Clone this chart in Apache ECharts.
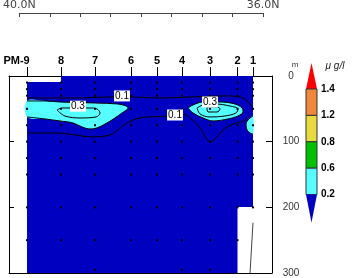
<!DOCTYPE html>
<html><head><meta charset="utf-8">
<script src="https://cdn.jsdelivr.net/npm/echarts@6/dist/echarts.min.js"></script>
<style>html,body{margin:0;padding:0;background:#fff}#c{width:361px;height:278px}</style>
</head><body><div id="c"></div>
<script>
// ---- data ----
const stationNames = ['PM-9','8','7','6','5','4','3','2','1'];
const stationLat   = [39.837, 39.285, 38.732, 38.146, 37.724, 37.317, 36.862, 36.415, 36.163];
const stationDepths = [
  [10,20,30,50,75,100,125,150,200,250],
  [10,20,30,50,75,100,125,150,200,250],
  [10,20,30,50,75,100,125,150,200,250,295],
  [10,20,30,50,75,100,125,150,200,250],
  [10,20,30,50,75,100,125,150,200,250],
  [10,20,30,50,75,100,125,150,200,250,295],
  [10,20,30,50,75,100,125,150,200,250,295],
  [10,20,30,50,75,100,125,150,200,250],
  [10,20,30,50,75,100,125,150,200]
];
const latTicks = [36.0, 40.0];
const depthTicks = [0, 100, 200, 300];
const colorLevels = ['1.4','1.2','0.8','0.6','0.2'];
const colorBins = ['#FF0000','#F0873A','#E6DA3E','#00C000','#55FFFF','#0000C0'];

// section area with data (lat, depth)
const sectionArea = [[39.837,9.1],[39.285,9.1],[39.285,0],[36.163,0],[36.163,199.4],[36.415,199.4],[36.415,300],[39.837,300]];
// > 0.2 patches
const patchWest = [[39.837,38.0],[39.545,38.0],[39.301,39.6],[38.732,41.1],[38.358,42.6],[38.228,45.7],[38.195,48.7],[38.293,56.3],[38.407,63.9],[38.537,71.5],[38.699,79.1],[38.813,80.7],[38.943,77.6],[39.089,71.5],[39.301,68.5],[39.545,65.4],[39.837,62.4]];
const patchEast = [[37.220,48.7],[37.138,44.1],[36.976,39.6],[36.699,39.6],[36.455,42.6],[36.341,48.7],[36.325,54.8],[36.407,60.9],[36.569,65.4],[36.813,68.5],[36.976,63.9],[37.138,56.3],[37.220,48.7]];
const patchEdge = [[36.163,60.9],[36.228,65.4],[36.276,73.0],[36.260,82.2],[36.211,86.8],[36.163,88.3]];
// contour lines
const c01Upper = [[39.837,33.5],[39.545,33.5],[39.057,33.5],[38.439,32],[38.163,32],[37.675,33.5],[37.187,32],[36.618,30.4],[36.374,32],[36.276,36.5],[36.211,42.6],[36.163,47.2]];
const c01Lower = [[39.837,86.8],[39.350,86.8],[39.057,89.8],[38.780,92.8],[38.488,89.8],[38.358,82.2],[38.211,71.5],[38.000,63.9],[37.561,60.9],[37.317,57.8],[37.187,63.9],[37.024,79.1],[36.927,94.4],[36.862,100.5],[36.764,94.4],[36.634,80.7],[36.439,71.5],[36.309,68.5],[36.260,62.4]];
const c02West = patchWest;
const c02East = patchEast;
const c02Edge = patchEdge;
const c03West = [[39.350,51.8],[39.268,48.7],[38.813,48.7],[38.699,50.2],[38.650,56.3],[38.715,62.4],[38.976,63.9],[39.220,60.9],[39.350,51.8]];
const c03East = [[37.073,48.7],[36.976,44.1],[36.780,42.6],[36.537,45.7],[36.407,50.2],[36.439,56.3],[36.618,60.9],[36.862,62.4],[37.024,57.8],[37.073,48.7]];
const c04East = [[36.911,47.2],[36.748,47.2],[36.699,50.2],[36.748,54.8],[36.894,54.8],[36.911,47.2]];
const bottomLine = [[36.163,223.5],[36.211,300]];
const contourLabels = [[38.293,30.4,'0.1'],[39.009,46.0,'0.3'],[37.431,59.4,'0.1'],[36.862,39.6,'0.3']];

// ---- chart ----
const chart = echarts.init(document.getElementById('c'), null, {renderer:'canvas'});
const polys = [
  {pts: sectionArea, color: colorBins[5], smooth: 0},
  {pts: patchWest, color: colorBins[4], smooth: 0.35},
  {pts: patchEast, color: colorBins[4], smooth: 0.35},
  {pts: patchEdge, color: colorBins[4], smooth: 0.35}
];
const lines = [c01Upper, c01Lower, c02West, c02East, c02Edge, c03West, c03East, c04East];
const FONT = 'Liberation Sans';

const series = [];
series.push({
  type:'custom', xAxisIndex:0, yAxisIndex:0, z:1, silent:true,
  data: polys.map((p,i)=>[p.pts[0][0], p.pts[0][1], i]),
  renderItem: (params, api) => {
    const p = polys[api.value(2)];
    return {type:'polygon', shape:{points: p.pts.map(q=>api.coord(q)), smooth: p.smooth},
      style:{fill:p.color, stroke:null}};
  }
});
lines.forEach((l)=>{
  series.push({type:'line', xAxisIndex:0, yAxisIndex:0, data:l, smooth:0.35, symbol:'none', z:3,
    silent:true, clip:true, lineStyle:{color:'#000', width:1}});
});
series.push({type:'line', xAxisIndex:0, yAxisIndex:0, data:bottomLine, symbol:'none', z:3, silent:true, lineStyle:{color:'#444', width:1}});
const dots = [];
stationLat.forEach((lat,i)=>stationDepths[i].forEach(d=>dots.push([lat,d])));
series.push({type:'scatter', xAxisIndex:0, yAxisIndex:0, data:dots, symbol:'rect', symbolSize:2,
  itemStyle:{color:'#000', opacity:1}, z:4, silent:true});
series.push({type:'scatter', xAxisIndex:0, yAxisIndex:0, data:contourLabels, symbolSize:0, z:5, silent:true,
  itemStyle:{opacity:1},
  label:{show:true, position:'inside', formatter:p=>p.value[2], color:'#000', fontSize:10, fontFamily:FONT,
    backgroundColor:'#fff', padding:[1,1,0,1], lineHeight:10, opacity:1}});

// colorbar graphics
const cbX = 306, cbW = 11, cbTop = 63, cbBase = 89, cbStep = 26.4;
const graphics = [];
graphics.push({type:'polygon', shape:{points:[[cbX+cbW/2,cbTop],[cbX+cbW,cbBase],[cbX,cbBase]]}, style:{fill:colorBins[0]}});
for (let k=1;k<=4;k++){
  graphics.push({type:'rect', shape:{x:cbX, y:cbBase+(k-1)*cbStep, width:cbW, height:cbStep},
    style:{fill:colorBins[k], stroke:'#333', lineWidth:1}});
}
const cbBottom = cbBase+4*cbStep;
graphics.push({type:'polygon', shape:{points:[[cbX,cbBottom],[cbX+cbW,cbBottom],[cbX+cbW/2,cbBottom+28]]}, style:{fill:colorBins[5]}});
colorLevels.forEach((t,k)=>{
  graphics.push({type:'text', x:cbX+cbW+4, y:cbBase+k*cbStep, style:{text:t, fill:'#000', font:'bold 10px '+FONT, textVerticalAlign:'middle'}});
});
graphics.push({type:'text', x:295, y:65, style:{text:'m', fill:'#333', font:'8px '+FONT, textAlign:'center', textVerticalAlign:'middle'}});
graphics.push({type:'text', x:335, y:66, style:{text:'\u03bc g/l', fill:'#222', font:'italic 10px '+FONT, textAlign:'center', textVerticalAlign:'middle'}});

const option = {
  animation:false,
  grid:[
    {left:9, top:76, width:263, height:197, containLabel:false},
    {left:17, top:11, width:246, height:20, containLabel:false}
  ],
  xAxis:[
    {type:'value', gridIndex:0, min:35.854, max:40.130, inverse:true, position:'bottom',
      axisLine:{show:true, onZero:false, lineStyle:{color:'#000', width:1}}, axisTick:{show:false}, axisLabel:{show:false}, splitLine:{show:false}},
    {type:'value', gridIndex:0, min:35.854, max:40.130, inverse:true, position:'top',
      axisLine:{show:true, onZero:false, lineStyle:{color:'#000', width:1}},
      axisTick:{show:true, inside:false, length:9, customValues:stationLat, lineStyle:{color:'#000'}},
      axisLabel:{show:true, customValues:stationLat, margin:10, fontSize:11, fontWeight:'bold', fontFamily:FONT, color:'#000',
        formatter:(v)=>{const i=stationLat.findIndex(s=>Math.abs(s-v)<1e-6); return i===0?'{p|PM-9}':stationNames[i];},
        rich:{p:{fontSize:11, fontWeight:'bold', fontFamily:FONT, color:'#000', padding:[0,21,0,0]}}},
      splitLine:{show:false}},
    {type:'value', gridIndex:1, min:36, max:40, interval:0.5, inverse:true, position:'top',
      axisLine:{show:true, onZero:false, lineStyle:{color:'#444', width:1}},
      axisTick:{show:true, inside:true, length:4, lineStyle:{color:'#444'}},
      axisLabel:{show:true, margin:2, fontSize:11, fontFamily:'DejaVu Sans', color:'#444',
        formatter:(v)=> latTicks.some(t=>Math.abs(t-v)<1e-6) ? v.toFixed(1)+'N' : ''},
      splitLine:{show:false}}
  ],
  yAxis:[
    {type:'value', gridIndex:0, min:0, max:300, interval:100, inverse:true, position:'left',
      axisLine:{show:true, onZero:false, lineStyle:{color:'#000', width:1}},
      axisTick:{show:true, inside:true, length:5, lineStyle:{color:'#000'}}, axisLabel:{show:false}, splitLine:{show:false}},
    {type:'value', gridIndex:0, min:0, max:300, interval:100, inverse:true, position:'right',
      axisLine:{show:true, onZero:false, lineStyle:{color:'#000', width:1}},
      axisTick:{show:true, inside:true, length:6, lineStyle:{color:'#000'}},
      axisLabel:{show:true, margin:19, align:'center', fontSize:10, fontFamily:FONT, color:'#333',
        formatter:(v)=> depthTicks.includes(v) ? String(v) : ''},
      splitLine:{show:false}},
    {type:'value', gridIndex:1, show:false, min:0, max:1}
  ],
  series: series,
  graphic: graphics
};
chart.setOption(option);
</script></body></html>
